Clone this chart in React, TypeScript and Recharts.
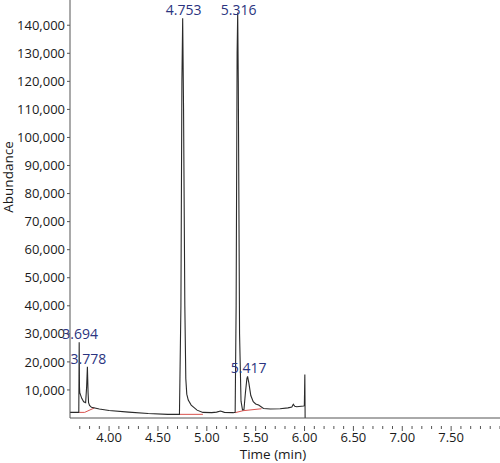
import { LineChart, Line, XAxis, YAxis, ReferenceLine, LabelList } from "recharts";

// retention time (min) / abundance pairs
const times = [
  3.6, 3.65, 3.69, 3.692, 3.694, 3.697, 3.7, 3.72, 3.74, 3.76, 3.77, 3.778, 3.785, 3.79, 3.8, 3.82,
  3.9, 4.0, 4.2, 4.4, 4.6, 4.72, 4.735, 4.745, 4.753, 4.762, 4.775, 4.785, 4.795, 4.81, 4.84, 4.9,
  4.96, 5.05, 5.1, 5.14, 5.18, 5.27, 5.29, 5.3, 5.31, 5.316, 5.322, 5.335, 5.35, 5.365, 5.38, 5.395,
  5.41, 5.417, 5.43, 5.45, 5.475, 5.5, 5.53, 5.58, 5.65, 5.75, 5.83, 5.87, 5.885, 5.9, 5.92, 5.99,
  5.998, 6.003, 6.006,
];
const abundance = [
  2000, 2000, 2000, 15000, 27000, 11000, 9000, 7000, 5800, 5500, 11000, 18300, 9000, 5500, 4500, 3800,
  3200, 2700, 2100, 1600, 1300, 1300, 40000, 120000, 142500, 110000, 40000, 14000, 8500, 6400, 4600, 2800,
  2000, 1900, 2100, 2500, 2000, 1900, 2000, 40000, 130000, 144500, 120000, 30000, 6000, 2900, 3000, 9000,
  14000, 14800, 12500, 8000, 5800, 5000, 4600, 3400, 3200, 3300, 3600, 3900, 4900, 4200, 4000, 4300,
  4400, 15500, 0,
];

// annotated peaks
const peakTimes = [3.694, 3.778, 4.753, 5.316, 5.417];

// integration baselines
const baseX1 = [3.694, 3.75, 4.72, 5.29, 5.37];
const baseX2 = [3.75, 3.85, 4.96, 5.37, 5.56];
const baseY1 = [2000, 2000, 1300, 1900, 2600];
const baseY2 = [2000, 3600, 1300, 2600, 3300];

const yTicks = [10000, 20000, 30000, 40000, 50000, 60000, 70000, 80000, 90000, 100000, 110000, 120000, 130000, 140000];
const xLabels = [4.0, 4.5, 5.0, 5.5, 6.0, 6.5, 7.0, 7.5];
const xTicks: number[] = [];
for (let i = 37; i <= 80; i++) xTicks.push(i / 10);

const data = times.map((t, i) => ({
  t,
  v: abundance[i],
  tag: peakTimes.includes(t) ? t.toFixed(3) : undefined,
}));

const FONT = "'Open Sans', sans-serif";
const TEXT = "#1a1a1a";
const AXIS = "#555";

function TimeTick({ x, y, payload }: any) {
  const major = xLabels.some((l) => Math.abs(l - payload.value) < 1e-6);
  return (
    <g>
      <line x1={x} x2={x} y1={y} y2={y + (major ? 5 : 3)} stroke={AXIS} strokeWidth={1} />
      {major && (
        <text x={x} y={y + 7} dy="0.71em" textAnchor="middle" fill={TEXT} fontSize={13} fontFamily={FONT}>
          {payload.value.toFixed(2)}
        </text>
      )}
    </g>
  );
}

function PeakLabel({ x, y, value }: any) {
  if (!value) return null;
  return (
    <text x={x + 1} y={Math.max(y - 3, 15)} textAnchor="middle" fill="#2b3480" fontSize={14} fontFamily={FONT}>
      {value}
    </text>
  );
}

export default function App() {
  return (
    <div style={{ position: "absolute", left: 0, top: 0 }}>
      <LineChart width={500} height={463} data={data} margin={{ top: 0, right: 0, left: 0, bottom: 0 }} style={{ fontFamily: FONT, overflow: "visible" }}>
        <XAxis
          dataKey="t"
          type="number"
          domain={[3.6, 8.0]}
          ticks={xTicks}
          interval={0}
          allowDataOverflow
          height={45}
          stroke={AXIS}
          tickLine={false}
          tick={<TimeTick />}
          label={{
            content: ({ viewBox }: any) => (
              <text x={viewBox.x + viewBox.width / 2 - 12} y={459} textAnchor="middle" fill={TEXT} fontSize={13.5} fontFamily={FONT}>
                Time (min)
              </text>
            ),
          }}
        />
        <YAxis
          type="number"
          domain={[0, 149000]}
          ticks={yTicks}
          interval={0}
          width={70}
          stroke={AXIS}
          tickSize={3}
          tickMargin={2}
          tick={{ fill: TEXT, fontSize: 13, fontFamily: FONT }}
          tickFormatter={(v: number) => v.toLocaleString("en-US")}
          label={{
            content: () => (
              <text x={13} y={177} transform="rotate(-90 13 177)" textAnchor="middle" fill={TEXT} fontSize={13.5} fontFamily={FONT}>
                Abundance
              </text>
            ),
          }}
        />
        {baseX1.map((x1, i) => (
          <ReferenceLine
            key={i}
            segment={[
              { x: x1, y: baseY1[i] },
              { x: baseX2[i], y: baseY2[i] },
            ]}
            stroke="#d9534f"
            strokeWidth={1}
          />
        ))}
        <Line type="linear" dataKey="v" stroke="#2a2a2a" strokeWidth={1.1} dot={false} isAnimationActive={false}>
          <LabelList dataKey="tag" content={<PeakLabel />} />
        </Line>
      </LineChart>
    </div>
  );
}
